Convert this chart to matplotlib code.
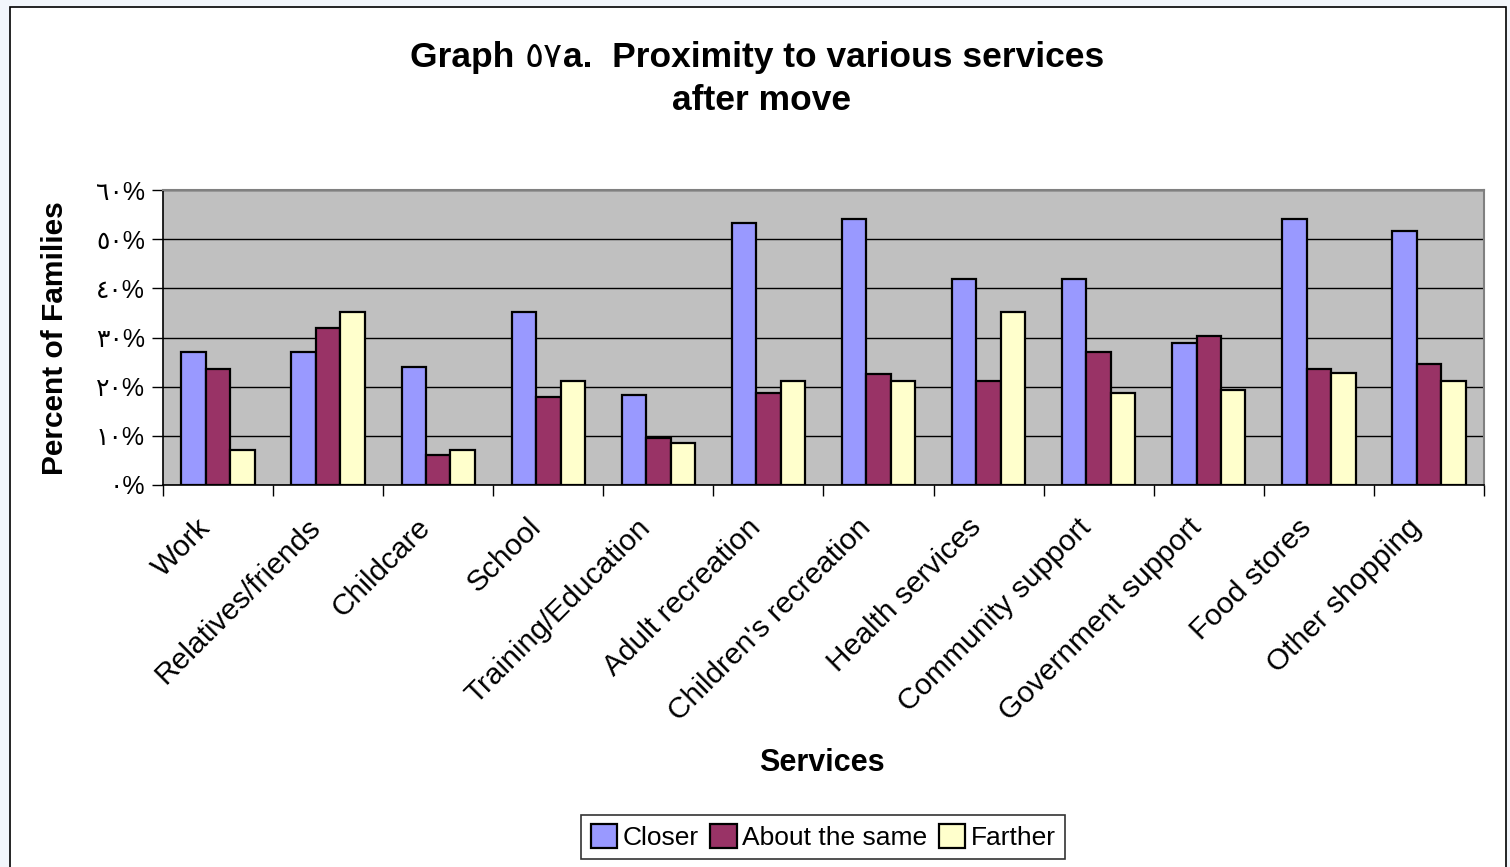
import numpy as np
import matplotlib
matplotlib.use("Agg")
import matplotlib.pyplot as plt
from matplotlib.patches import Rectangle
from matplotlib.transforms import ScaledTranslation

plt.rcParams['font.family'] = ['Liberation Sans', 'DejaVu Sans']

# Datos
servicios = ["Work", "Relatives/friends", "Childcare", "School", "Training/Education",
             "Adult recreation", "Children's recreation", "Health services",
             "Community support", "Government support", "Food stores", "Other shopping"]
closer = [27.0, 27.0, 24.1, 35.2, 18.3, 53.2, 54.1, 42.0, 42.0, 28.9, 54.1, 51.7]
same = [23.6, 31.9, 6.2, 17.8, 9.6, 18.7, 22.6, 21.2, 27.0, 30.4, 23.6, 24.6]
farther = [7.2, 35.2, 7.2, 21.2, 8.6, 21.2, 21.2, 35.2, 18.8, 19.3, 22.7, 21.2]
series_names = ["Closer", "About the same", "Farther"]
colores = ["#9999FF", "#993366", "#FFFFCC"]
yticks = [0, 10, 20, 30, 40, 50, 60]
ytick_labels = ["٠%", "١٠%", "٢٠%", "٣٠%", "٤٠%", "٥٠%", "٦٠%"]

fig = plt.figure(figsize=(15.1, 8.67), dpi=100, facecolor="#F2F6FB")

# Marco blanco del área del gráfico
fig.patches.append(Rectangle((10 / 1510, -0.01), 1496 / 1510, 1 - 7 / 867 + 0.01,
                             transform=fig.transFigure, facecolor="white",
                             edgecolor="black", linewidth=1.2, zorder=-5))

ax = fig.add_axes([163 / 1510, 1 - 485 / 867, (1484 - 163) / 1510, (485 - 190) / 867])
ax.set_zorder(2)
ax.set_facecolor("#C0C0C0")

x = np.arange(len(servicios))
w = 0.222
for i, (vals, nombre, c) in enumerate(zip([closer, same, farther], series_names, colores)):
    ax.bar(x + (i - 1) * w, vals, width=w, color=c, edgecolor="black",
           linewidth=1.6, label=nombre, zorder=3)

ax.set_xlim(-0.5, len(servicios) - 0.5)
ax.set_ylim(0, 60)
ax.set_yticks(yticks)
ax.set_yticklabels(ytick_labels, fontsize=18)
ax.yaxis.grid(True, color="black", linewidth=1.0, zorder=1)
ax.set_axisbelow(True)

# Marcas del eje x entre categorías, etiquetas en el centro
ax.set_xticks(np.arange(len(servicios) + 1) - 0.5)
ax.set_xticklabels([])
ax.set_xticks(x, minor=True)
ax.set_xticklabels(servicios, minor=True, rotation=45, ha="right", va="top",
                   rotation_mode="anchor", fontsize=21.5)
ax.tick_params(axis="x", which="minor", length=0, pad=16)
ax.tick_params(axis="x", which="major", length=8, width=1.0, direction="out")
ax.tick_params(axis="y", length=8, width=1.0, direction="out", pad=5)

desplaza = ScaledTranslation(-22 / 100, -6 / 100, fig.dpi_scale_trans)
for lab in ax.get_xticklabels(minor=True):
    lab.set_transform(lab.get_transform() + desplaza)

for s in ["top", "right"]:
    ax.spines[s].set_color("#808080")
    ax.spines[s].set_linewidth(1.5)
for s in ["left", "bottom"]:
    ax.spines[s].set_color("black")
    ax.spines[s].set_linewidth(1.2)

# Título: las cifras árabes en DejaVu Sans normal
fig.canvas.draw()
r = fig.canvas.get_renderer()
partes = [("Graph ", "bold", ["Liberation Sans"]),
          ("٥٧", "normal", ["DejaVu Sans"]),
          ("a.  Proximity to various services", "bold", ["Liberation Sans"])]
textos = []
ancho = 0
for txt, peso, fam in partes:
    t = fig.text(0, 1 - 57 / 867, txt, ha="left", va="center", fontsize=25.5,
                 fontweight=peso, family=fam)
    bb = t.get_window_extent(r)
    textos.append((t, ancho))
    ancho += bb.width
x0 = 757 - ancho / 2
for t, dx in textos:
    t.set_x((x0 + dx) / 1510)
fig.text(762 / 1510, 1 - 101 / 867, "after move", ha="center", va="center",
         fontsize=25.5, fontweight="bold")

fig.text(55 / 1510, 1 - 338 / 867, "Percent of Families", rotation=90,
         ha="center", va="center", fontsize=21.5, fontweight="bold")
fig.text(822 / 1510, 1 - 763 / 867, "Services", ha="center", va="center",
         fontsize=22, fontweight="bold")

leg = fig.legend(loc="center", bbox_to_anchor=(823 / 1510, 1 - 837 / 867), ncol=3,
                 fontsize=19, frameon=True, fancybox=False, edgecolor="black",
                 handlelength=1.0, handleheight=1.0, handletextpad=0.2,
                 columnspacing=0.45, borderpad=0.35)
leg.get_frame().set_linewidth(1.2)

fig.savefig("out.png", dpi=100, facecolor=fig.get_facecolor())
